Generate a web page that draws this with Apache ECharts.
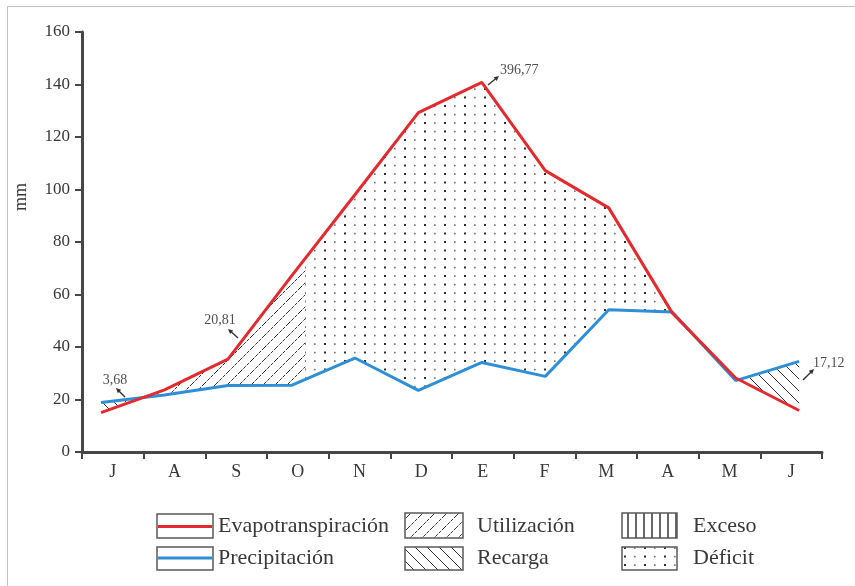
<!DOCTYPE html>
<html><head><meta charset="utf-8">
<script src="https://cdn.jsdelivr.net/npm/echarts@6/dist/echarts.min.js"></script>
<style>html,body{margin:0;padding:0;background:#fff}#c{width:855px;height:586px}</style>
</head><body><div id="c"></div>
<script>
// ---- data ----
const months = ['J','A','S','O','N','D','E','F','M','A','M','J'];
const evapotranspiracion = [15, 23.7, 35.4, 67, 98, 129.3, 140.8, 107.2, 93, 53, 28.2, 15.8];
const precipitacion = [18.9, 21.7, 25.3, 25.4, 35.8, 23.5, 34.1, 28.8, 54.2, 53.3, 27.2, 34.5];
const yMin = 0, yMax = 160, yStep = 20;
const utilizacionEnd = 3.22;           // month position where soil-water use ends (October)
const annotationTexts = ['3,68', '20,81', '396,77', '17,12'];
const legendLabels = ['Evapotranspiración', 'Precipitación', 'Utilización', 'Recarga', 'Exceso', 'Déficit'];

// ---- styles ----
const RED = '#e42a2e', BLUE = '#2f8fd6', AXIS = '#474747', TXT = '#383838';
const FONT = '"Liberation Serif", "DejaVu Serif", serif';

function makePattern(kind) {
  const c = document.createElement('canvas');
  let w = 12, h = 12;
  if (kind === 'dots') { w = 20; h = 17; }
  if (kind === 'vert') { w = 8; h = 8; }
  c.width = w; c.height = h;
  const g = c.getContext('2d');
  g.strokeStyle = 'rgba(30,30,30,0.9)';
  g.lineWidth = 1;
  if (kind === 'fwd') {
    g.setLineDash([3.5, 1.2]);
    g.beginPath();
    g.moveTo(0, h); g.lineTo(w, 0);
    g.moveTo(-w / 2, h / 2); g.lineTo(w / 2, -h / 2);
    g.moveTo(w / 2, h + h / 2); g.lineTo(w + w / 2, h / 2);
    g.stroke();
  } else if (kind === 'back') {
    g.beginPath();
    g.moveTo(0, 0); g.lineTo(w, h);
    g.moveTo(-w / 2, h / 2); g.lineTo(w / 2, h + h / 2);
    g.moveTo(w / 2, -h / 2); g.lineTo(w + w / 2, h / 2);
    g.stroke();
  } else if (kind === 'vert') {
    g.lineWidth = 1.5;
    g.beginPath(); g.moveTo(4, 0); g.lineTo(4, h); g.stroke();
  } else if (kind === 'dots') {
    g.fillStyle = '#2e2e2e';
    g.fillRect(4, 3, 2, 2);
    g.fillRect(4, 11.5, 2, 2);
    g.fillStyle = '#6e6e6e';
    g.fillRect(14, 3.3, 1.6, 1.6);
    g.fillRect(14, 11.8, 1.6, 1.6);
  }
  return { image: c, repeat: 'repeat' };
}
const P = { fwd: makePattern('fwd'), back: makePattern('back'), vert: makePattern('vert'), dots: makePattern('dots') };

function interp(arr, x) {
  const i = Math.floor(x);
  if (i >= arr.length - 1) return arr[arr.length - 1];
  if (i < 0) return arr[0];
  return arr[i] + (arr[i + 1] - arr[i]) * (x - i);
}
function crossing(a, b, i) {
  const d0 = a[i] - b[i], d1 = a[i + 1] - b[i + 1];
  return i + d0 / (d0 - d1);
}

function region(name, x0, x1, upper, lower, fill) {
  return {
    type: 'custom', name, xAxisIndex: 1, yAxisIndex: 0, silent: true, z: 1,
    data: [0],
    renderItem(params, api) {
      const xs = [x0];
      for (let i = Math.ceil(x0); i <= Math.floor(x1); i++) if (i > x0 && i < x1) xs.push(i);
      xs.push(x1);
      const top = xs.map(x => api.coord([x, interp(upper, x)]));
      const bot = xs.slice().reverse().map(x => api.coord([x, interp(lower, x)]));
      return { type: 'polygon', shape: { points: top.concat(bot) }, style: { fill: fill, stroke: null } };
    }
  };
}

const E = evapotranspiracion, Pr = precipitacion;
const c0 = crossing(E, Pr, 0), c8 = crossing(E, Pr, 8), c10 = crossing(E, Pr, 10);

const idx = months.map((m, i) => i);
const etData = idx.map(i => [i, E[i]]);
const prData = idx.map(i => [i, Pr[i]]);

// ---- graphics: frame, axis name, annotations, legend ----
function arrow(x1, y1, x2, y2) {
  const a = Math.atan2(y2 - y1, x2 - x1), s = 5.5;
  const p1 = [x2 - s * Math.cos(a - 0.45), y2 - s * Math.sin(a - 0.45)];
  const p2 = [x2 - s * Math.cos(a + 0.45), y2 - s * Math.sin(a + 0.45)];
  return [
    { type: 'line', shape: { x1, y1, x2: x2 - 2 * Math.cos(a), y2: y2 - 2 * Math.sin(a) }, style: { stroke: '#333', lineWidth: 1.4 } },
    { type: 'polygon', shape: { points: [[x2, y2], p1, p2] }, style: { fill: '#333' } }
  ];
}
const annText = (t, x, y, align) => ({ type: 'text', x, y, style: { text: t, font: '14px ' + FONT, fill: '#505050', align, verticalAlign: 'middle' } });

const graphics = [
  { type: 'line', shape: { x1: 7, y1: 6.5, x2: 855, y2: 6.5 }, style: { stroke: '#c4c4c4', lineWidth: 1 } },
  { type: 'line', shape: { x1: 7.5, y1: 6, x2: 7.5, y2: 586 }, style: { stroke: '#c4c4c4', lineWidth: 1 } },
  { type: 'text', x: 21, y: 197, rotation: Math.PI / 2, style: { text: 'mm', font: '18px ' + FONT, fill: TXT, align: 'center', verticalAlign: 'middle' } },
  annText(annotationTexts[0], 115, 380, 'center'), ...arrow(125, 397, 116, 388),
  annText(annotationTexts[1], 220, 320, 'center'), ...arrow(238, 338, 228, 329),
  annText(annotationTexts[2], 500, 70, 'left'), ...arrow(488, 85, 499, 76),
  annText(annotationTexts[3], 813, 363, 'left'), ...arrow(803, 380, 814, 369),
];
function legendBox(x, y, w, h, fill) {
  return { type: 'rect', shape: { x, y, width: w, height: h }, style: { fill: fill, stroke: '#5a5a5a', lineWidth: 1.5 } };
}
const legText = (t, x, y) => ({ type: 'text', x, y, style: { text: t, font: '22px ' + FONT, fill: TXT, verticalAlign: 'middle' } });
graphics.push(
  legendBox(157, 514, 56, 24, '#fff'),
  { type: 'line', shape: { x1: 158, y1: 526.5, x2: 212, y2: 526.5 }, style: { stroke: RED, lineWidth: 3 } },
  legendBox(157, 547, 56, 23, '#fff'),
  { type: 'line', shape: { x1: 158, y1: 558, x2: 212, y2: 558 }, style: { stroke: BLUE, lineWidth: 3 } },
  legText(legendLabels[0], 218, 526), legText(legendLabels[1], 218, 558),
  legendBox(405, 513, 58, 25, P.fwd), legendBox(405, 547, 58, 23, P.back),
  legText(legendLabels[2], 477, 526), legText(legendLabels[3], 477, 558),
  legendBox(622, 513, 55, 25, P.vert), legendBox(622, 547, 55, 23, P.dots),
  legText(legendLabels[4], 693, 526), legText(legendLabels[5], 693, 558)
);

const chart = echarts.init(document.getElementById('c'), null, { renderer: 'canvas' });
chart.setOption({
  animation: false,
  backgroundColor: '#fff',
  grid: { left: 82, right: 33, top: 32, bottom: 134, containLabel: false },
  xAxis: [
    {
      type: 'category', data: months, boundaryGap: true,
      axisLine: { show: true, onZero: false, lineStyle: { color: AXIS, width: 3 } },
      axisTick: { show: true, length: 7, lineStyle: { color: AXIS, width: 2 } },
      axisLabel: { color: TXT, fontFamily: FONT, fontSize: 18, margin: 11 },
      splitLine: { show: false }
    },
    { type: 'value', min: -0.3, max: 11.36, show: false, splitLine: { show: false } }
  ],
  yAxis: {
    type: 'value', min: yMin, max: yMax, interval: yStep,
    axisLine: { show: true, onZero: false, lineStyle: { color: AXIS, width: 3 } },
    axisTick: { show: true, length: 7, lineStyle: { color: AXIS, width: 2 } },
    axisLabel: { color: TXT, fontFamily: FONT, fontSize: 17, margin: 12 },
    splitLine: { show: false }
  },
  series: [
    region('Recarga', 0, c0, Pr, E, P.back),
    region('Utilización', c0, utilizacionEnd, E, Pr, P.fwd),
    region('Déficit', utilizacionEnd, c8, E, Pr, P.dots),
    region('Recarga', c10, 11, Pr, E, P.back),
    { type: 'line', name: 'Precipitación', xAxisIndex: 1, data: prData, symbol: 'none', z: 3,
      lineStyle: { color: BLUE, width: 3 } },
    { type: 'line', name: 'Evapotranspiración', xAxisIndex: 1, data: etData, symbol: 'none', z: 4,
      lineStyle: { color: RED, width: 3 } }
  ],
  graphic: graphics
});
</script></body></html>
